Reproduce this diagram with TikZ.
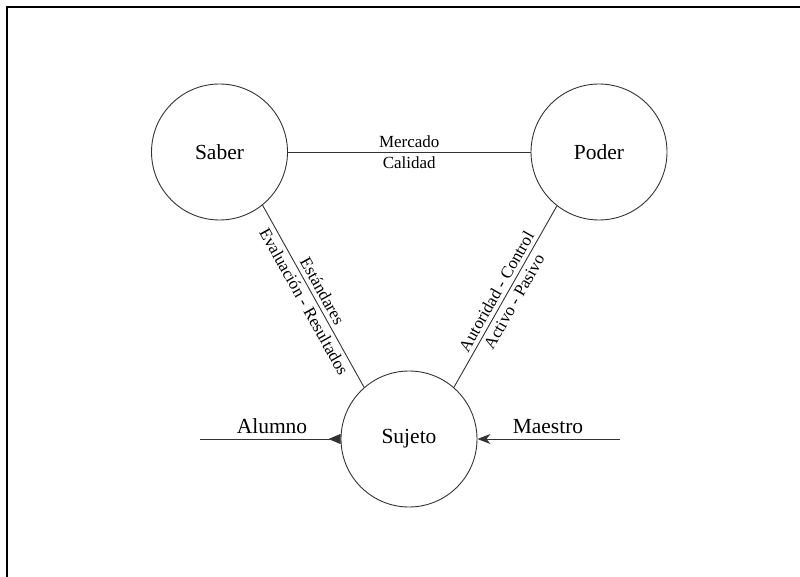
\documentclass[tikz,border=0pt]{standalone}
\usepackage{fontspec}
\setmainfont{Liberation Serif}
\usetikzlibrary{arrows.meta}
\begin{document}
\begin{tikzpicture}[x=1pt,y=-1pt,
  circ/.style={circle,draw=black!80,line width=0.9pt,minimum size=136pt,inner sep=0pt,font=\fontsize{21.5}{24}\selectfont},
  conn/.style={draw=black!80,line width=0.9pt},
  elabel/.style={font=\fontsize{17}{20}\selectfont,inner sep=4pt},
  side/.style={font=\fontsize{21.5}{24}\selectfont,inner sep=0pt,anchor=base}]
\useasboundingbox (0,0) rectangle (800,577);
\draw[line width=1.8pt] (7,577) -- (7,7) -- (800,7);
\node[circ] (saber) at (219.5,152) {Saber};
\node[circ] (poder) at (599,152) {Poder};
\node[circ] (sujeto) at (409,439) {Sujeto};
\coordinate (alumnoend) at (200,439);
\coordinate (maestroend) at (620,439);
\draw[conn] (saber) -- (poder)
  node[elabel,midway,above] {Mercado}
  node[elabel,midway,below] {Calidad};
\draw[conn] (saber.-51) -- (sujeto.131)
  node[elabel,midway,sloped,above] {Estándares}
  node[elabel,midway,sloped,below] {Evaluación - Resultados};
\draw[conn] (sujeto.49) -- (poder.-128)
  node[elabel,midway,sloped,above] {Autoridad - Control}
  node[elabel,midway,sloped,below] {Activo - Pasivo};
\draw[conn,{Triangle[reversed,length=12pt,width=10pt]}-] (sujeto) -- (alumnoend);
\draw[conn,-{Stealth[length=13pt,width=10pt,inset=4pt]}] (maestroend) -- (sujeto);
\node[side] (alumno) at (272,433.5) {Alumno};
\node[side] (maestro) at (548,433.5) {Maestro};
\end{tikzpicture}
\end{document}
